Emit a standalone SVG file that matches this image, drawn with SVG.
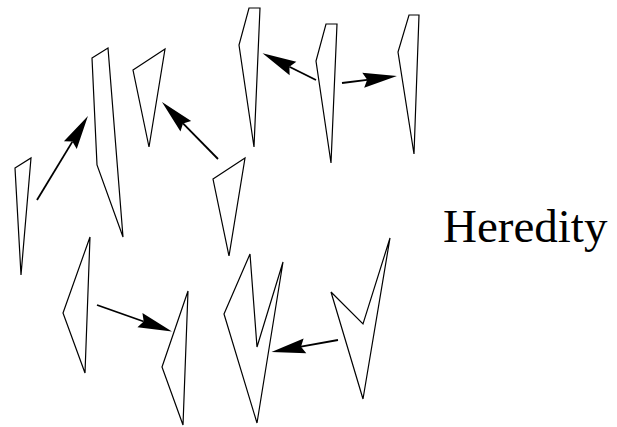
<svg xmlns="http://www.w3.org/2000/svg" width="617" height="427" viewBox="0 0 617 427">
<style>
.shape{fill:none;stroke:#000;stroke-width:1.2;stroke-linejoin:miter}
.conn{fill:none;stroke:#000;stroke-width:1.8}
.label{font-family:"Liberation Serif","Times New Roman",serif;font-size:47px;fill:#000}
</style>
<defs>
<marker id="ah" markerUnits="userSpaceOnUse" markerWidth="36" markerHeight="20" viewBox="0 -10 36 20" refX="4" refY="0" orient="auto" overflow="visible">
<path d="M34,0 L0,-7.5 L4,0 L0,7.5 Z" fill="#000"/>
</marker>
</defs>
<rect width="617" height="427" fill="#fff"/>
<g id="nodeA"><polygon class="shape" points="15,168 31,158 21,275"/></g>
<g id="nodeB"><polygon class="shape" points="92,58 108,48 123,237 97,165"/></g>
<g id="nodeC"><polygon class="shape" points="133,70 165,49 149,147"/></g>
<g id="nodeD"><polygon class="shape" points="213,179 245,158 229,256"/></g>
<g id="nodeE"><polygon class="shape" points="249,8 260,8 254,147 239,45"/></g>
<g id="nodeF"><polygon class="shape" points="326,24 337,24 331,163 316,61"/></g>
<g id="nodeG"><polygon class="shape" points="409,15 419,15 414,154 398,52"/></g>
<g id="nodeH"><polygon class="shape" points="90,237 63,313 85,373"/></g>
<g id="nodeI"><polygon class="shape" points="188,291 162,367 183,425"/></g>
<g id="nodeJ"><polygon class="shape" points="224,314 250,254 257,347 283,262 257,423"/></g>
<g id="nodeK"><polygon class="shape" points="331,292 363,324 390,238 363,399"/></g>
<g id="label"><text class="label" x="443" y="242">Heredity</text></g>
<g id="connectors">
<line class="conn" x1="37" y1="200" x2="72.4" y2="141.6" marker-end="url(#ah)"/>
<line class="conn" x1="218" y1="159" x2="183" y2="123.4" marker-end="url(#ah)"/>
<line class="conn" x1="316" y1="80" x2="289.4" y2="66.7" marker-end="url(#ah)"/>
<line class="conn" x1="342" y1="83" x2="367.2" y2="79.8" marker-end="url(#ah)"/>
<line class="conn" x1="97" y1="305" x2="143.7" y2="321.5" marker-end="url(#ah)"/>
<line class="conn" x1="338" y1="340" x2="301" y2="346.7" marker-end="url(#ah)"/>
</g>
</svg>
